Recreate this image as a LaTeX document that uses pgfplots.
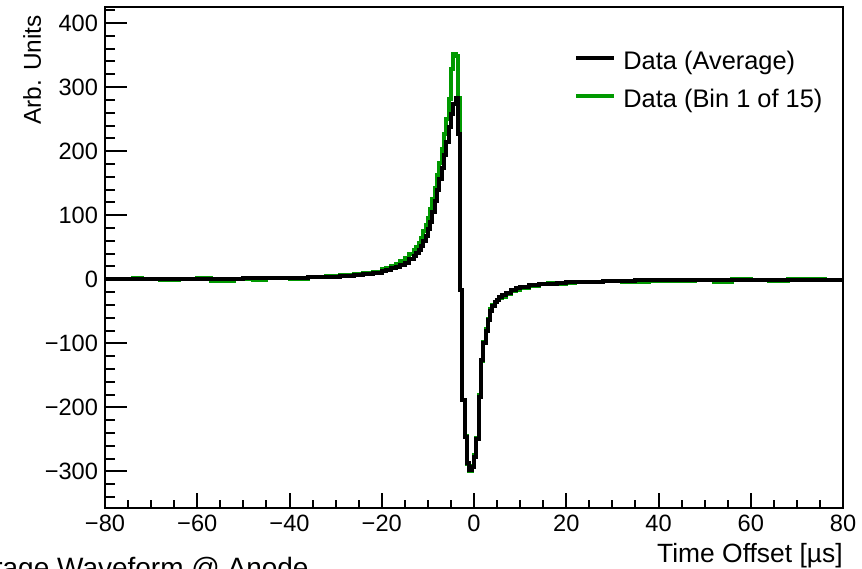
\documentclass[border=0pt]{standalone}
\usepackage{fontspec}
\setmainfont{Liberation Sans}
\usepackage{pgfplots}
\pgfplotsset{compat=1.18}
\definecolor{rootgreen}{RGB}{0,153,0}
\begin{document}
\begin{tikzpicture}
\pgfplotsset{common/.style={
  scale only axis, width=369pt, height=250.5pt,
  xmin=-80, xmax=80, ymin=-357, ymax=425,
  axis line style={line width=1pt},
  tick style={line width=1pt, black},
  tick align=inside,
  xtick pos=bottom, ytick pos=left,
  ticklabel style={font=\fontsize{11.8}{14}\selectfont},
  clip=false,
}}
\begin{axis}[common, name=main,
  xtick={-80,-60,...,80},
  xticklabels={−80,−60,−40,−20,0,20,40,60,80},
  minor xtick={-80,-75,...,80},
  ytick=\empty,
  major tick length=7.5pt, minor tick length=4pt,
  legend style={draw=none, fill=none, at={(rel axis cs:0.6355,0.911)}, anchor=north west,
    inner sep=0pt, outer sep=0pt, font=\fontsize{12.7}{14}\selectfont,
    row sep=7pt, nodes={inner sep=0pt, text height=9pt, text depth=3pt}},
  legend cell align=left,
  legend image code/.code={\draw[#1, line width=2pt] (0pt,3pt) -- (19pt,3pt); \path (23.5pt,3pt);},
]
\addlegendimage{black}
\addlegendentry{Data (Average)}
\addlegendimage{rootgreen}
\addlegendentry{Data (Bin 1 of 15)}

\addplot[const plot, rootgreen, line width=2pt, forget plot] coordinates {
(-80,0) (-74,2) (-72,0) (-68,-1) (-64,1) (-60,2) (-57,-2) (-52,1) (-48,-1) (-45,2)
(-40,1) (-36,3) (-32,5) (-29,6) (-26,8) (-24,10) (-22,12) (-20,16) (-19,18) (-18,21)
(-17,24) (-16,28) (-15,33) (-14,39) (-13,46) (-12.5,51) (-12,57) (-11.5,64) (-11,76)
(-10.5,85) (-10,96) (-9.5,110) (-9,126) (-8.5,143) (-8,162) (-7.5,182) (-7,204)
(-6.5,226) (-6,250) (-5.5,282) (-5,328) (-4.5,352) (-4,348) (-3.5,283) (-3,-17)
(-2.5,-188) (-2,-244) (-1.5,-288) (-1,-299) (-0.5,-292) (0,-275) (0.5,-248) (1,-180)
(1.5,-128) (2,-98) (2.5,-78) (3,-62) (3.5,-47) (4,-40) (4.5,-35) (5,-33) (5.5,-30)
(6,-27) (7,-23) (8,-19) (9,-16) (10,-14) (12,-10) (14,-8) (16,-6) (18,-8) (20,-6)
(22,-4) (25,-5) (28,-3) (32,-4) (38,-2) (44,-3) (48,-1) (52,-4) (56,0) (60,-1)
(64,-3) (68,0) (72,1) (76,-1) (80,-1)
};
\addplot[const plot, black, line width=2pt, forget plot] coordinates {
(-80,0) (-75,0.5) (-70,0.5) (-65,1) (-60,1) (-55,1) (-50,1.5) (-45,2) (-40,2) (-36,3)
(-32,4) (-29,5) (-26,7) (-24,8) (-22,10) (-20,13) (-19,15) (-18,17) (-17,19) (-16,22)
(-15,26) (-14,31) (-13,37) (-12.5,41) (-12,46) (-11.5,52) (-11,60) (-10.5,68) (-10,78)
(-9.5,90) (-9,105) (-8.5,122) (-8,140) (-7.5,156) (-7,174) (-6.5,194) (-6,214)
(-5.5,237) (-5,258) (-4.5,274) (-4,283) (-3.5,227) (-3,-17) (-2.5,-188) (-2,-246)
(-1.5,-286) (-1,-297) (-0.5,-293) (0,-277) (0.5,-250) (1,-183) (1.5,-126) (2,-100)
(2.5,-80) (3,-64) (3.5,-50) (4,-42) (4.5,-36) (5,-32) (5.5,-28) (6,-25) (7,-21)
(8,-17) (9,-14) (10,-12) (12,-9) (14,-8) (16,-7) (18,-6) (20,-5) (24,-4) (28,-2)
(35,-1.5) (45,-1) (60,-0.5) (80,-0.5)
};
\node[xshift=-32pt, yshift=-4pt, rotate=90, anchor=base east, inner sep=0pt, font=\fontsize{12.2}{14}\selectfont]
  at (rel axis cs:0,1) {Arb. Units};
\node[anchor=base east, inner sep=0pt, font=\fontsize{13.2}{15}\selectfont]
  at (rel axis cs:1,0) [yshift=-27pt] {Time Offset [µs]};
\node[anchor=base east, inner sep=0pt, font=\fontsize{14}{16}\selectfont]
  at (rel axis cs:0,0) [xshift=102pt, yshift=-34.5pt] {Average Waveform @ Anode};
\end{axis}
\begin{axis}[common,
  axis line style={draw=none},
  xtick=\empty,
  ytick={-300,-200,...,400},
  yticklabels={−300,−200,−100,0,100,200,300,400},
  minor ytick={-340,-320,...,420},
  major tick length=11pt, minor tick length=5pt,
]
\end{axis}
\pgfresetboundingbox
\path[use as bounding box] ([xshift=-52.5pt,yshift=-30.5pt]main.south west) rectangle ([xshift=9.5pt,yshift=3.5pt]main.north east);
\end{tikzpicture}
\end{document}
